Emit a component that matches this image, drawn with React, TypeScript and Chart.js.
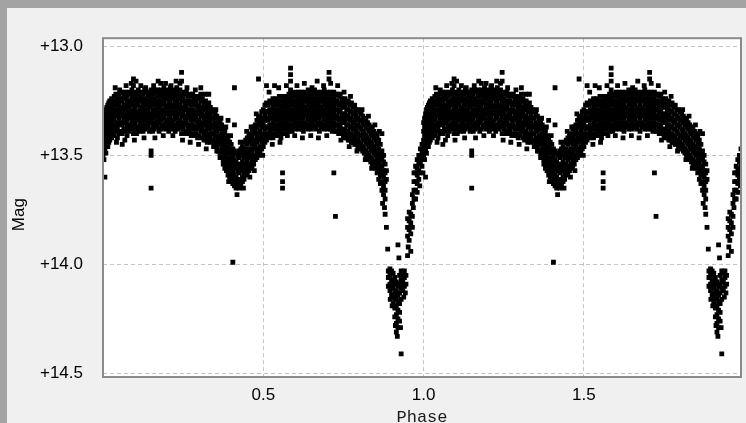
import { useEffect, useRef } from 'react';
import { Chart, registerables } from 'chart.js';

Chart.register(...registerables);

// Each row: [phase, magnitudes observed at that phase]
type Row = [number, number[]];

const egressTail: Row[] = [
  [0.000, [13.35, 13.39, 13.43, 13.46, 13.50]],
  [0.003, [13.33, 13.37, 13.41, 13.45, 13.48, 13.52]],
  [0.006, [13.31, 13.35, 13.38, 13.42, 13.47, 13.60]],
  [0.009, [13.29, 13.33, 13.36, 13.40, 13.44, 13.49]],
  [0.012, [13.28, 13.31, 13.35, 13.39, 13.43]],
  [0.015, [13.27, 13.30, 13.34, 13.37, 13.41, 13.46]],
  [0.018, [13.26, 13.29, 13.33, 13.36, 13.40, 13.44]],
  [0.021, [13.25, 13.28, 13.32, 13.35, 13.39, 13.43]],
  [0.024, [13.27, 13.30, 13.34, 13.38, 13.41]],
  [0.027, [13.24, 13.28, 13.31, 13.35, 13.39, 13.42]],
  [0.030, [13.26, 13.29, 13.33, 13.37, 13.40]],
];

const firstMaximum: Row[] = [
  [0.035, [13.23, 13.27, 13.30, 13.34, 13.37, 13.41]],
  [0.040, [13.22, 13.25, 13.29, 13.32, 13.36, 13.39]],
  [0.045, [13.24, 13.27, 13.31, 13.35, 13.38, 13.42]],
  [0.050, [13.22, 13.26, 13.29, 13.33, 13.36, 13.40]],
  [0.055, [13.24, 13.28, 13.31, 13.35, 13.39]],
  [0.060, [13.21, 13.25, 13.29, 13.32, 13.36, 13.40, 13.45]],
  [0.065, [13.23, 13.27, 13.30, 13.34, 13.38]],
  [0.070, [13.21, 13.24, 13.28, 13.32, 13.35, 13.39]],
  [0.075, [13.23, 13.26, 13.30, 13.34, 13.37, 13.41]],
  [0.080, [13.21, 13.25, 13.28, 13.32, 13.36, 13.39]],
  [0.085, [13.22, 13.26, 13.30, 13.33, 13.37]],
  [0.090, [13.20, 13.24, 13.27, 13.31, 13.35, 13.38]],
  [0.095, [13.15, 13.18, 13.22, 13.26, 13.29, 13.33, 13.36, 13.40]],
  [0.100, [13.21, 13.24, 13.28, 13.31, 13.35, 13.38]],
  [0.105, [13.22, 13.26, 13.30, 13.33, 13.37, 13.40]],
  [0.110, [13.20, 13.24, 13.27, 13.31, 13.34, 13.38]],
  [0.115, [13.22, 13.25, 13.29, 13.33, 13.36, 13.39]],
  [0.120, [13.21, 13.24, 13.28, 13.31, 13.35, 13.37]],
  [0.125, [13.22, 13.26, 13.29, 13.33, 13.36, 13.39]],
  [0.130, [13.20, 13.24, 13.27, 13.31, 13.34, 13.38]],
  [0.135, [13.21, 13.25, 13.29, 13.32, 13.36]],
  [0.140, [13.21, 13.23, 13.27, 13.30, 13.34, 13.37]],
  [0.145, [13.22, 13.25, 13.28, 13.32, 13.35, 13.39]],
  [0.150, [13.20, 13.24, 13.27, 13.31, 13.34, 13.38, 13.48, 13.50, 13.65]],
  [0.155, [13.22, 13.26, 13.29, 13.33, 13.36, 13.39]],
  [0.160, [13.20, 13.24, 13.27, 13.31, 13.35, 13.38]],
  [0.165, [13.21, 13.25, 13.29, 13.32, 13.36]],
  [0.170, [13.20, 13.23, 13.27, 13.30, 13.34, 13.37]],
  [0.175, [13.21, 13.25, 13.28, 13.32, 13.35, 13.39]],
  [0.180, [13.17, 13.20, 13.23, 13.27, 13.30, 13.34, 13.38]],
  [0.185, [13.21, 13.25, 13.29, 13.32, 13.36]],
  [0.190, [13.19, 13.23, 13.26, 13.30, 13.33, 13.37]],
  [0.195, [13.21, 13.24, 13.28, 13.31, 13.35, 13.38]],
  [0.200, [13.20, 13.23, 13.27, 13.30, 13.34, 13.37]],
  [0.205, [13.21, 13.25, 13.28, 13.32, 13.35, 13.39]],
  [0.210, [13.19, 13.23, 13.26, 13.30, 13.33, 13.37]],
  [0.215, [13.21, 13.24, 13.28, 13.31, 13.35, 13.38]],
  [0.220, [13.20, 13.23, 13.27, 13.30, 13.34, 13.37]],
  [0.225, [13.21, 13.25, 13.28, 13.32, 13.36, 13.39]],
  [0.230, [13.19, 13.23, 13.26, 13.30, 13.33, 13.37]],
  [0.235, [13.21, 13.24, 13.28, 13.31, 13.35, 13.38]],
  [0.240, [13.17, 13.20, 13.23, 13.27, 13.30, 13.34, 13.37]],
  [0.245, [13.12, 13.16, 13.22, 13.25, 13.29, 13.32, 13.36, 13.40]],
  [0.250, [13.21, 13.24, 13.28, 13.31, 13.35, 13.38]],
  [0.255, [13.22, 13.26, 13.29, 13.33, 13.36, 13.40]],
  [0.260, [13.21, 13.25, 13.28, 13.32, 13.35, 13.39]],
  [0.265, [13.23, 13.26, 13.30, 13.33, 13.37, 13.40]],
  [0.270, [13.22, 13.25, 13.29, 13.32, 13.36, 13.39]],
  [0.275, [13.23, 13.27, 13.30, 13.34, 13.37, 13.41]],
  [0.280, [13.22, 13.26, 13.29, 13.33, 13.36, 13.40]],
  [0.285, [13.24, 13.27, 13.31, 13.34, 13.38, 13.41]],
  [0.290, [13.23, 13.26, 13.30, 13.33, 13.37, 13.40]],
  [0.295, [13.24, 13.28, 13.31, 13.35, 13.38, 13.42]],
  [0.300, [13.23, 13.27, 13.30, 13.34, 13.37, 13.41]],
  [0.305, [13.22, 13.25, 13.29, 13.32, 13.36, 13.39]],
  [0.310, [13.24, 13.28, 13.31, 13.35, 13.38, 13.42]],
  [0.315, [13.26, 13.29, 13.33, 13.36, 13.40, 13.43]],
  [0.320, [13.25, 13.28, 13.32, 13.35, 13.39, 13.42]],
  [0.325, [13.27, 13.30, 13.34, 13.37, 13.41, 13.44]],
  [0.330, [13.22, 13.26, 13.29, 13.33, 13.36, 13.40, 13.43]],
];

const secondaryDip: Row[] = [
  [0.335, [13.28, 13.31, 13.35, 13.38, 13.42, 13.44]],
  [0.340, [13.29, 13.33, 13.36, 13.40, 13.43]],
  [0.345, [13.30, 13.33, 13.37, 13.40, 13.44, 13.46]],
  [0.350, [13.31, 13.35, 13.38, 13.42, 13.45]],
  [0.355, [13.32, 13.36, 13.39, 13.43, 13.46, 13.48]],
  [0.360, [13.34, 13.37, 13.41, 13.44, 13.48]],
  [0.365, [13.35, 13.38, 13.42, 13.45, 13.49, 13.51]],
  [0.370, [13.36, 13.40, 13.43, 13.47, 13.50]],
  [0.375, [13.38, 13.41, 13.45, 13.48, 13.52, 13.54]],
  [0.380, [13.39, 13.43, 13.46, 13.50, 13.53, 13.56]],
  [0.385, [13.41, 13.44, 13.48, 13.51, 13.55, 13.57]],
  [0.390, [13.34, 13.42, 13.46, 13.49, 13.53, 13.56, 13.59]],
  [0.395, [13.44, 13.47, 13.51, 13.54, 13.58, 13.60]],
  [0.400, [13.45, 13.49, 13.52, 13.56, 13.59, 13.62]],
  [0.405, [13.47, 13.50, 13.54, 13.57, 13.61, 13.63, 13.99]],
  [0.410, [13.19, 13.36, 13.48, 13.52, 13.55, 13.59, 13.62, 13.64]],
  [0.415, [13.49, 13.53, 13.56, 13.60, 13.63, 13.65]],
  [0.420, [13.50, 13.54, 13.57, 13.61, 13.64]],
  [0.425, [13.48, 13.51, 13.55, 13.58, 13.62, 13.65]],
  [0.430, [13.47, 13.50, 13.54, 13.57, 13.61, 13.63]],
  [0.435, [13.46, 13.49, 13.53, 13.56, 13.60, 13.62]],
  [0.440, [13.44, 13.48, 13.51, 13.55, 13.58, 13.61]],
  [0.445, [13.43, 13.47, 13.50, 13.54, 13.57, 13.59]],
  [0.450, [13.42, 13.45, 13.49, 13.52, 13.56, 13.58]],
  [0.455, [13.41, 13.44, 13.48, 13.51, 13.55, 13.57]],
  [0.460, [13.40, 13.43, 13.47, 13.50, 13.54, 13.56]],
  [0.465, [13.38, 13.42, 13.45, 13.49, 13.52, 13.55]],
  [0.470, [13.37, 13.40, 13.44, 13.47, 13.51, 13.54]],
  [0.475, [13.36, 13.39, 13.43, 13.46, 13.50, 13.52]],
  [0.480, [13.34, 13.37, 13.41, 13.44, 13.48, 13.51]],
  [0.485, [13.15, 13.33, 13.36, 13.40, 13.43, 13.47, 13.50]],
  [0.490, [13.32, 13.35, 13.39, 13.42, 13.46, 13.48]],
  [0.495, [13.30, 13.34, 13.37, 13.41, 13.44, 13.47]],
  [0.500, [13.29, 13.33, 13.36, 13.40, 13.43, 13.46]],
];

const secondMaximum: Row[] = [
  [0.505, [13.27, 13.31, 13.34, 13.38, 13.41, 13.44]],
  [0.510, [13.18, 13.26, 13.30, 13.33, 13.37, 13.40, 13.43]],
  [0.515, [13.27, 13.30, 13.34, 13.37, 13.41]],
  [0.520, [13.25, 13.29, 13.32, 13.36, 13.39, 13.42]],
  [0.525, [13.26, 13.30, 13.33, 13.37, 13.40]],
  [0.530, [13.24, 13.28, 13.31, 13.35, 13.38, 13.42]],
  [0.535, [13.18, 13.26, 13.29, 13.33, 13.36, 13.40]],
  [0.540, [13.24, 13.27, 13.31, 13.34, 13.38, 13.41]],
  [0.545, [13.25, 13.29, 13.32, 13.36, 13.39]],
  [0.550, [13.23, 13.27, 13.30, 13.34, 13.37, 13.41]],
  [0.555, [13.25, 13.28, 13.32, 13.35, 13.39, 13.42]],
  [0.560, [13.23, 13.26, 13.30, 13.33, 13.37, 13.40, 13.58, 13.62, 13.65]],
  [0.565, [13.24, 13.28, 13.31, 13.35, 13.38]],
  [0.570, [13.23, 13.26, 13.30, 13.33, 13.37, 13.40]],
  [0.575, [13.24, 13.28, 13.31, 13.35, 13.38, 13.41]],
  [0.580, [13.22, 13.26, 13.29, 13.33, 13.36, 13.39]],
  [0.585, [13.10, 13.13, 13.16, 13.20, 13.24, 13.27, 13.31, 13.34, 13.38]],
  [0.590, [13.22, 13.25, 13.29, 13.32, 13.36, 13.39]],
  [0.595, [13.23, 13.27, 13.30, 13.34, 13.37]],
  [0.600, [13.21, 13.25, 13.28, 13.32, 13.35, 13.38]],
  [0.605, [13.23, 13.26, 13.30, 13.33, 13.37]],
  [0.610, [13.21, 13.24, 13.28, 13.31, 13.35, 13.38]],
  [0.615, [13.22, 13.26, 13.29, 13.33, 13.36]],
  [0.620, [13.21, 13.24, 13.28, 13.31, 13.35, 13.38]],
  [0.625, [13.22, 13.26, 13.29, 13.33, 13.36, 13.39]],
  [0.630, [13.21, 13.24, 13.28, 13.31, 13.35, 13.37]],
  [0.635, [13.22, 13.25, 13.29, 13.32, 13.36]],
  [0.640, [13.20, 13.24, 13.27, 13.31, 13.34, 13.38]],
  [0.645, [13.22, 13.26, 13.29, 13.33, 13.36]],
  [0.650, [13.21, 13.24, 13.28, 13.31, 13.35, 13.38]],
  [0.655, [13.22, 13.26, 13.29, 13.33, 13.36]],
  [0.660, [13.20, 13.24, 13.27, 13.31, 13.34, 13.37]],
  [0.665, [13.22, 13.25, 13.29, 13.32, 13.36, 13.38]],
  [0.670, [13.21, 13.24, 13.28, 13.31, 13.35]],
  [0.675, [13.22, 13.26, 13.29, 13.33, 13.36, 13.39]],
  [0.680, [13.21, 13.24, 13.28, 13.31, 13.35, 13.37]],
  [0.685, [13.22, 13.25, 13.29, 13.32, 13.36]],
  [0.690, [13.20, 13.24, 13.27, 13.31, 13.34, 13.38]],
  [0.695, [13.22, 13.26, 13.29, 13.33, 13.36]],
  [0.700, [13.21, 13.24, 13.28, 13.31, 13.35, 13.38]],
  [0.705, [13.12, 13.15, 13.22, 13.26, 13.29, 13.33, 13.36]],
  [0.710, [13.17, 13.21, 13.24, 13.28, 13.31, 13.35, 13.38]],
  [0.715, [13.22, 13.26, 13.29, 13.33, 13.36, 13.39]],
  [0.720, [13.21, 13.24, 13.28, 13.31, 13.35, 13.38, 13.58]],
  [0.725, [13.22, 13.26, 13.29, 13.33, 13.36, 13.39, 13.78]],
  [0.730, [13.22, 13.25, 13.29, 13.32, 13.36, 13.39]],
  [0.735, [13.23, 13.27, 13.30, 13.34, 13.37, 13.40]],
  [0.740, [13.22, 13.26, 13.29, 13.33, 13.36, 13.39]],
  [0.745, [13.24, 13.27, 13.31, 13.34, 13.38, 13.40]],
  [0.750, [13.25, 13.28, 13.32, 13.35, 13.39, 13.41]],
  [0.755, [13.24, 13.27, 13.31, 13.34, 13.38, 13.42]],
  [0.760, [13.26, 13.29, 13.33, 13.36, 13.40, 13.42]],
  [0.765, [13.25, 13.29, 13.32, 13.36, 13.39, 13.43]],
  [0.770, [13.27, 13.30, 13.34, 13.37, 13.41, 13.43]],
  [0.775, [13.26, 13.30, 13.33, 13.37, 13.40, 13.44]],
  [0.780, [13.28, 13.31, 13.35, 13.38, 13.42, 13.44]],
  [0.785, [13.27, 13.31, 13.34, 13.38, 13.41, 13.45]],
  [0.790, [13.29, 13.32, 13.36, 13.39, 13.43, 13.45]],
  [0.795, [13.29, 13.33, 13.36, 13.40, 13.43, 13.46]],
  [0.800, [13.30, 13.34, 13.37, 13.41, 13.44, 13.47]],
  [0.805, [13.31, 13.34, 13.38, 13.41, 13.45, 13.47]],
  [0.810, [13.32, 13.35, 13.39, 13.42, 13.46, 13.48]],
  [0.815, [13.33, 13.36, 13.40, 13.43, 13.47, 13.49]],
  [0.820, [13.34, 13.37, 13.41, 13.44, 13.48, 13.50]],
  [0.825, [13.35, 13.38, 13.42, 13.45, 13.49, 13.51]],
  [0.830, [13.36, 13.39, 13.43, 13.46, 13.50, 13.52]],
  [0.835, [13.37, 13.40, 13.44, 13.47, 13.51, 13.53]],
  [0.840, [13.38, 13.41, 13.45, 13.48, 13.52, 13.54]],
  [0.845, [13.39, 13.42, 13.46, 13.49, 13.53, 13.55]],
  [0.850, [13.40, 13.43, 13.47, 13.50, 13.54, 13.56]],
];

const primaryDip: Row[] = [
  [0.855, [13.41, 13.45, 13.48, 13.52, 13.55, 13.58]],
  [0.860, [13.43, 13.47, 13.50, 13.54, 13.57, 13.61]],
  [0.865, [13.45, 13.49, 13.52, 13.56, 13.59, 13.63]],
  [0.870, [13.40, 13.48, 13.51, 13.55, 13.58, 13.62, 13.66]],
  [0.875, [13.50, 13.53, 13.57, 13.60, 13.64, 13.68]],
  [0.880, [13.54, 13.58, 13.62, 13.66, 13.70, 13.77]],
  [0.884, [13.57, 13.61, 13.83]],
  [0.888, [13.93]],
  [0.890, [14.03, 14.06, 14.10]],
  [0.895, [14.02, 14.05, 14.09, 14.12]],
  [0.900, [14.03, 14.07, 14.10, 14.14]],
  [0.905, [14.04, 14.08, 14.11, 14.15, 14.18]],
  [0.910, [14.06, 14.09, 14.13, 14.16, 14.20, 14.24]],
  [0.915, [14.08, 14.12, 14.15, 14.19, 14.23, 14.27, 14.31]],
  [0.920, [13.91, 14.10, 14.14, 14.17, 14.21, 14.25, 14.29]],
  [0.923, [13.97]],
  [0.925, [14.05, 14.09, 14.13, 14.18, 14.22, 14.26]],
  [0.930, [14.03, 14.07, 14.11, 14.16, 14.41]],
  [0.935, [14.04, 14.08, 14.12]],
  [0.940, [14.03, 14.06, 14.10]],
  [0.945, [14.05, 14.09]],
  [0.950, [13.79, 13.83, 13.87, 13.96]],
  [0.955, [13.76, 13.80, 13.84, 13.89]],
  [0.960, [13.77, 13.81, 13.86, 13.94]],
  [0.965, [13.68, 13.72, 13.78, 13.83]],
  [0.970, [13.58, 13.62, 13.66, 13.70]],
  [0.975, [13.55, 13.58, 13.62, 13.66]],
  [0.980, [13.52, 13.56, 13.59, 13.63, 13.67]],
  [0.985, [13.50, 13.53, 13.57, 13.61]],
  [0.990, [13.47, 13.51, 13.54, 13.58]],
  [0.995, [13.45, 13.49, 13.52, 13.55]],
];

// Single observations scattered along the edges of the curve
const edgeScatter: [number, number][] = [
  [0.038, 13.19], [0.052, 13.20], [0.072, 13.18], [0.088, 13.17], [0.103, 13.16],
  [0.118, 13.18], [0.133, 13.19], [0.158, 13.18], [0.172, 13.16], [0.195, 13.17],
  [0.212, 13.18], [0.228, 13.16], [0.262, 13.19], [0.288, 13.20], [0.305, 13.19],
  [0.318, 13.22], [0.042, 13.44], [0.068, 13.43], [0.098, 13.43], [0.128, 13.42],
  [0.162, 13.42], [0.188, 13.41], [0.218, 13.41], [0.248, 13.43], [0.272, 13.44],
  [0.298, 13.45], [0.322, 13.47], [0.352, 13.29], [0.368, 13.33], [0.383, 13.37],
  [0.398, 13.41], [0.428, 13.44], [0.448, 13.39], [0.462, 13.37], [0.478, 13.31],
  [0.392, 13.62], [0.418, 13.68], [0.438, 13.65], [0.458, 13.60], [0.472, 13.57],
  [0.498, 13.50], [0.518, 13.21], [0.548, 13.19], [0.572, 13.18], [0.605, 13.18],
  [0.628, 13.17], [0.652, 13.19], [0.668, 13.16], [0.688, 13.18], [0.732, 13.18],
  [0.752, 13.21], [0.772, 13.23], [0.528, 13.45], [0.552, 13.44], [0.598, 13.41],
  [0.622, 13.42], [0.648, 13.41], [0.672, 13.42], [0.698, 13.41], [0.742, 13.43],
  [0.768, 13.46], [0.792, 13.48], [0.818, 13.52], [0.838, 13.56], [0.808, 13.29],
  [0.828, 13.32], [0.848, 13.36], [0.862, 13.39], [0.872, 13.72], [0.878, 13.74],
  [0.896, 14.16], [0.902, 14.19], [0.912, 14.28], [0.918, 14.33], [0.928, 14.29],
  [0.938, 14.15], [0.943, 14.13], [0.952, 13.92], [0.968, 13.74], [0.975, 13.70],
  [0.988, 13.64], [0.998, 13.58],
];

const magTicks = [13.0, 13.5, 14.0, 14.5];
const phaseTicks = [0.5, 1.0, 1.5];
const phaseRange = [0, 1.99];
const magRange = [12.963, 14.516];

const foldedCycle = [
  ...[...egressTail, ...firstMaximum, ...secondaryDip, ...secondMaximum, ...primaryDip]
    .flatMap(([phase, mags]) => mags.map((mag) => ({ x: phase, y: mag }))),
  ...edgeScatter.map(([phase, mag]) => ({ x: phase, y: mag })),
];

// The folded curve is shown over two cycles.
const plottedPoints = [
  ...foldedCycle,
  ...foldedCycle.map((p) => ({ x: p.x + 1, y: p.y })),
].filter((p) => p.x <= phaseRange[1]);

const plotFrame = {
  id: 'plotFrame',
  beforeDraw(chart: Chart) {
    const { ctx, chartArea } = chart;
    const { left, top, right, bottom } = chartArea;
    ctx.save();
    ctx.fillStyle = '#ffffff';
    ctx.fillRect(left, top, right - left, bottom - top);
    ctx.restore();
  },
  afterDraw(chart: Chart) {
    const { ctx, chartArea } = chart;
    const { left, top, right, bottom } = chartArea;
    ctx.save();
    ctx.strokeStyle = '#8a8a8a';
    ctx.lineWidth = 2;
    ctx.strokeRect(left, top, right - left, bottom - top);
    ctx.restore();
  },
};

export default function App() {
  const canvasRef = useRef<HTMLCanvasElement>(null);

  useEffect(() => {
    document.body.style.margin = '0';
    const canvas = canvasRef.current;
    if (!canvas) return;
    const chart = new Chart(canvas, {
      type: 'scatter',
      data: {
        datasets: [
          {
            data: plottedPoints,
            pointStyle: 'rect',
            pointRadius: 3.4,
            pointBackgroundColor: '#000000',
            pointBorderWidth: 0,
            borderWidth: 0,
            clip: 0,
          },
        ],
      },
      plugins: [plotFrame],
      options: {
        animation: false,
        responsive: false,
        devicePixelRatio: 1,
        events: [],
        layout: { padding: { top: 30, right: 5, left: 0, bottom: 0 } },
        plugins: { legend: { display: false }, tooltip: { enabled: false } },
        scales: {
          x: {
            type: 'linear',
            min: phaseRange[0],
            max: phaseRange[1],
            afterBuildTicks: (scale: any) => {
              scale.ticks = phaseTicks.map((v) => ({ value: v }));
            },
            afterFit: (scale: any) => {
              scale.height = 46;
            },
            ticks: {
              callback: (v: any) => Number(v).toFixed(1),
              font: { family: 'Liberation Sans', size: 17 },
              color: '#000000',
              padding: 8,
              maxRotation: 0,
            },
            grid: { color: '#c4c4c4', lineWidth: 1, drawTicks: false },
            border: { display: false, dash: [4, 3] },
            title: {
              display: true,
              text: 'Phase',
              color: '#1a1a1a',
              font: { family: 'Liberation Mono', size: 17, lineHeight: 1 },
              padding: { top: 0, bottom: -3 },
            },
          },
          y: {
            type: 'linear',
            reverse: true,
            min: magRange[0],
            max: magRange[1],
            afterBuildTicks: (scale: any) => {
              scale.ticks = magTicks.map((v) => ({ value: v }));
            },
            afterFit: (scale: any) => {
              scale.width = 96;
            },
            ticks: {
              callback: (v: any) => '+' + Number(v).toFixed(1),
              font: { family: 'Liberation Sans', size: 17 },
              color: '#000000',
              padding: 20,
            },
            grid: { color: '#c4c4c4', lineWidth: 1, drawTicks: false },
            border: { display: false, dash: [4, 3] },
            title: {
              display: true,
              text: 'Mag   ',
              color: '#000000',
              font: { family: 'Liberation Sans', size: 17 },
              padding: { top: 2, bottom: 0 },
            },
          },
        },
      },
    });
    return () => chart.destroy();
  }, []);

  return (
    <div style={{ position: 'relative', width: 746, height: 423, background: '#a3a3a3', overflow: 'hidden' }}>
      <div style={{ position: 'absolute', left: 7, top: 8, width: 739, height: 415, background: '#f0f0f0' }}>
        <canvas ref={canvasRef} width={739} height={415} style={{ display: 'block' }} />
      </div>
    </div>
  );
}
